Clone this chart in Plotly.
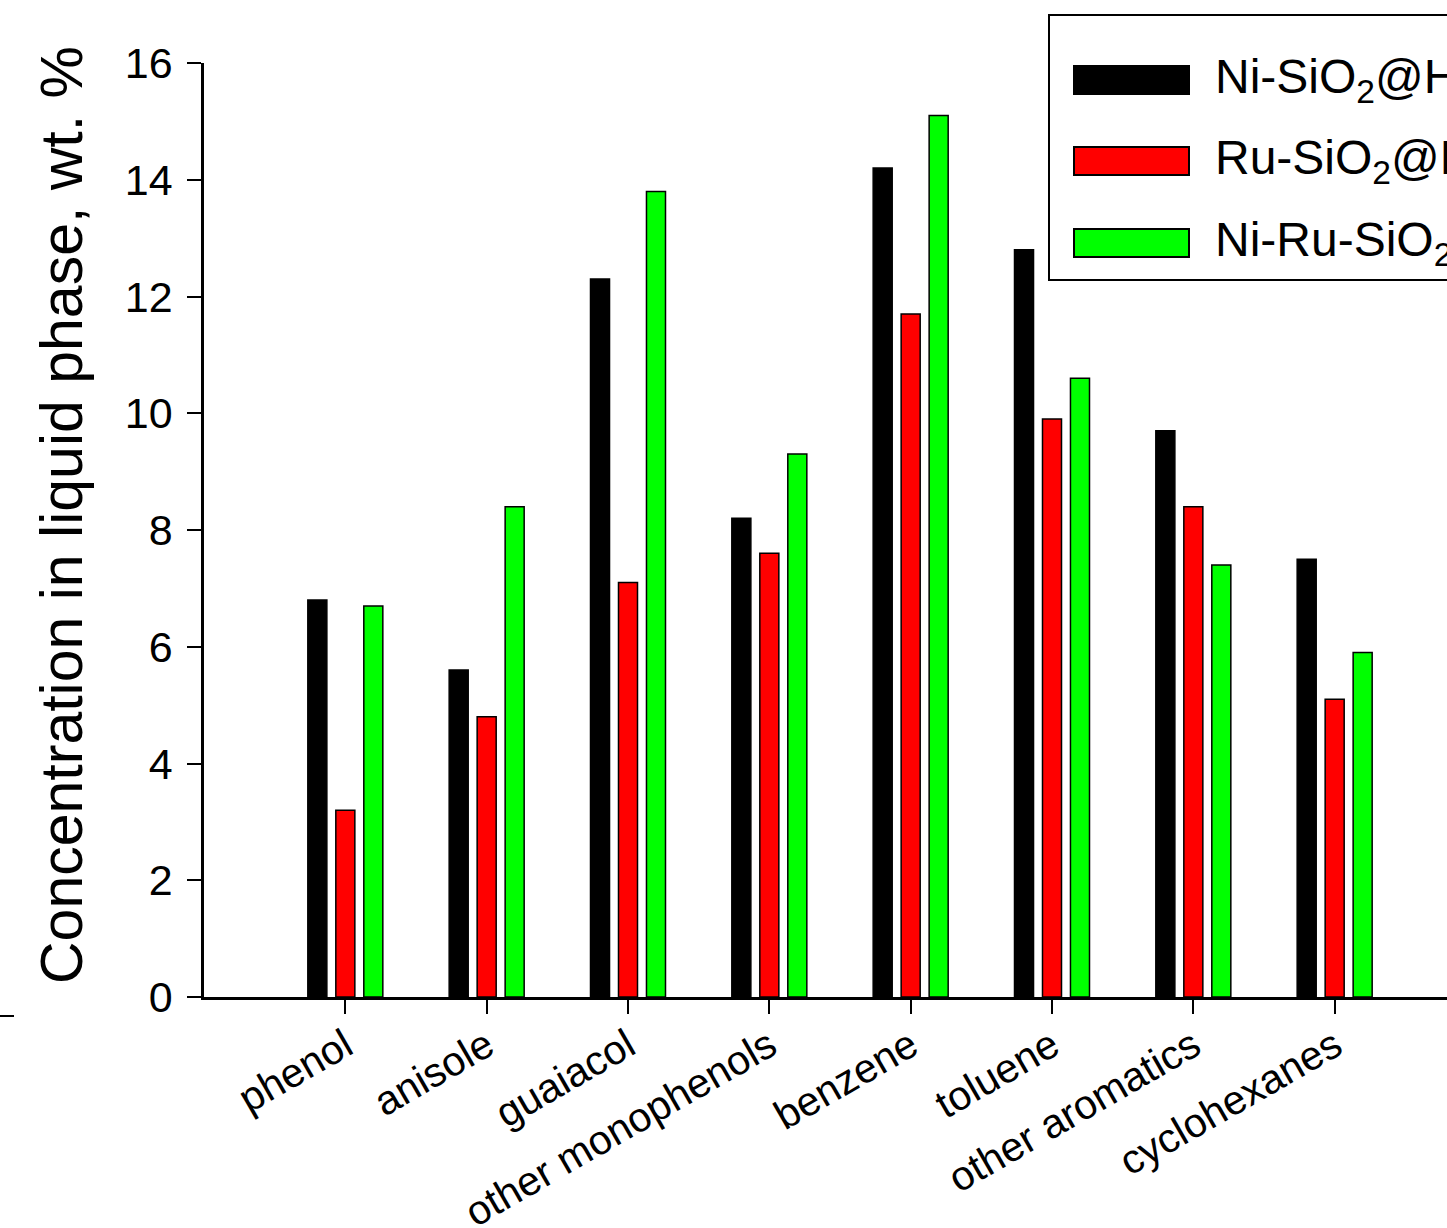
import plotly.graph_objects as go

categories = ["phenol", "anisole", "guaiacol", "other monophenols", "benzene",
              "toluene", "other aromatics", "cyclohexanes"]
series_names = ["Ni-SiO<sub>2</sub>@HZSM-5", "Ru-SiO<sub>2</sub>@HZSM-5", "Ni-Ru-SiO<sub>2</sub>@HZSM-5"]
ni_vals = [6.8, 5.6, 12.3, 8.2, 14.2, 12.8, 9.7, 7.5]
ru_vals = [3.2, 4.8, 7.1, 7.6, 11.7, 9.9, 8.4, 5.1]
niru_vals = [6.7, 8.4, 13.8, 9.3, 15.1, 10.6, 7.4, 5.9]
colors = ["#000000", "#ff0000", "#00ff00"]
y_ticks = [0, 2, 4, 6, 8, 10, 12, 14, 16]
y_title = "Concentration in liquid phase, wt. %"

FONT = "Arial, Liberation Sans, sans-serif"
W, H = 1500, 1228
ML, MR, MT, MB = 204, W - 1476, 63, H - 997

fig = go.Figure()
for name, vals, c in zip(series_names, [ni_vals, ru_vals, niru_vals], colors):
    fig.add_trace(go.Bar(
        x=list(range(len(categories))), y=vals, name=name,
        marker=dict(color=c, line=dict(color="#000000", width=1.5)),
        showlegend=False,
    ))

fig.update_layout(
    width=W, height=H,
    margin=dict(l=ML, r=MR, t=MT, b=MB, pad=0, autoexpand=False),
    paper_bgcolor="white", plot_bgcolor="white",
    barmode="group", bargap=0.406, bargroupgap=0.32,
    font=dict(family=FONT, color="black"),
)
fig.update_xaxes(
    range=[-1, 8], tickmode="array", tickvals=list(range(len(categories))),
    ticktext=categories, tickangle=-30, automargin=False,
    ticks="outside", ticklen=14, tickwidth=1.5, tickcolor="black",
    showline=True, linecolor="black", linewidth=2.5,
    showgrid=False, zeroline=False,
    tickfont=dict(size=41, family=FONT, color="black"),
    ticklabelstandoff=-8,
)
fig.update_yaxes(
    range=[0, 16], tickvals=y_ticks, automargin=False,
    ticks="outside", ticklen=14, tickwidth=2, tickcolor="black",
    showline=True, linecolor="black", linewidth=2.5,
    showgrid=False, zeroline=False,
    tickfont=dict(size=43, family=FONT, color="black"),
    ticklabelstandoff=6,
)

pw = W - ML - MR
ph = H - MT - MB
def px_x(x):
    return (x - ML) / pw
def px_y(y):
    return 1 - (y - MT) / ph

# y-axis title as annotation
fig.add_annotation(xref="paper", yref="paper", x=px_x(62), y=px_y(515),
                   text=y_title, textangle=-90, showarrow=False,
                   xanchor="center", yanchor="middle",
                   font=dict(size=59, family=FONT, color="black"))

# custom legend (large swatches)
fig.add_shape(type="rect", xref="paper", yref="paper",
              x0=px_x(1049), x1=px_x(1560), y0=px_y(280), y1=px_y(15),
              line=dict(color="black", width=2), fillcolor="white", layer="above")
rows_y = [80, 161, 243]
for name, c, yy in zip(series_names, colors, rows_y):
    fig.add_shape(type="rect", xref="paper", yref="paper",
                  x0=px_x(1074), x1=px_x(1189), y0=px_y(yy + 14), y1=px_y(yy - 14),
                  line=dict(color="black", width=2), fillcolor=c, layer="above")
    fig.add_annotation(xref="paper", yref="paper", x=px_x(1213), y=px_y(yy),
                       text=name, showarrow=False, xanchor="left", yanchor="middle",
                       font=dict(size=48, family=FONT, color="black"))

# small stray mark at the left edge of the original figure
fig.add_shape(type="line", xref="paper", yref="paper",
              x0=px_x(0), x1=px_x(14), y0=px_y(1016), y1=px_y(1016),
              line=dict(color="black", width=2))

fig.write_html("out.html",
               post_script="document.body.style.margin='0';document.body.style.overflow='hidden';document.documentElement.style.overflow='hidden';")
